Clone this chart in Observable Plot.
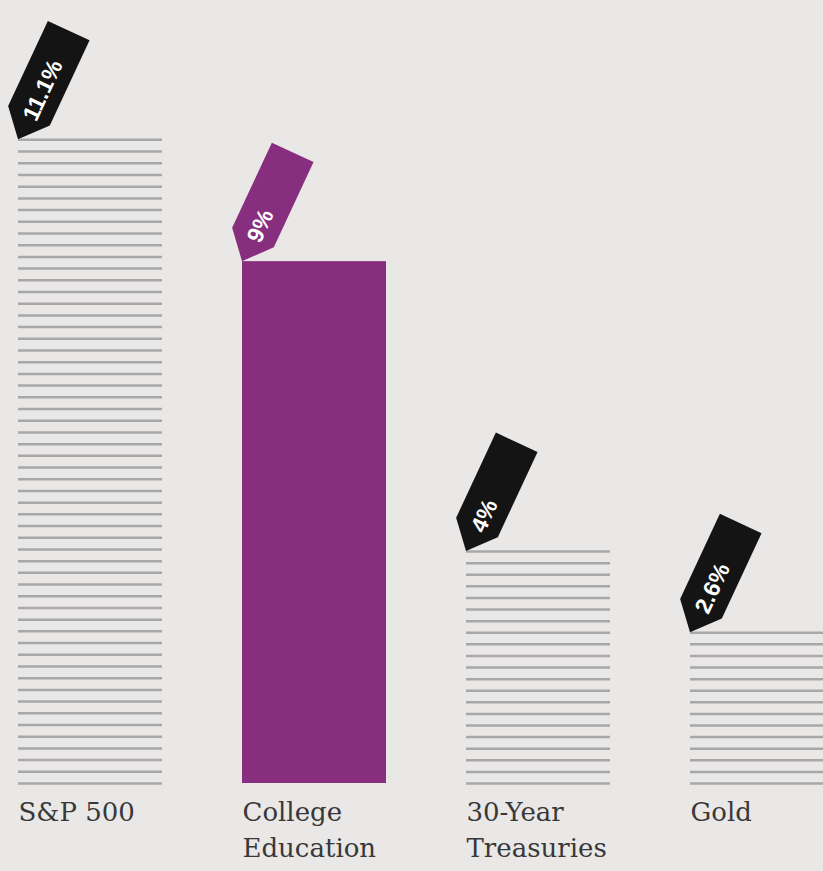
<!DOCTYPE html>
<html>
<head>
<meta charset="utf-8">
<script src="https://cdn.jsdelivr.net/npm/d3@7"></script>
<script src="https://cdn.jsdelivr.net/npm/@observablehq/plot@0.6"></script>
<style>
  html, body { margin: 0; padding: 0; background: #eae7e7; overflow: hidden; }
  #chart svg { display: block; max-width: none !important; }
</style>
</head>
<body>
<div id="chart"></div>
<script>
// ---- data ----
const categories = ["S&P 500", "College Education", "30-Year Treasuries", "Gold"];
const values = [11.1, 9, 4, 2.6];
const valueLabels = ["11.1%", "9%", "4%", "2.6%"];
const axisLabels = ["S&P 500", "College\nEducation", "30-Year\nTreasuries", "Gold"];
const highlighted = ["College Education"];

// ---- styles ----
const purple = "#882e7e";
const tagDark = "#141414";
const stripeColor = "#a8a8a8";
const stripeStep = 0.2; // approximate stripe spacing in value units (decorative)

const data = categories.map((c, i) => ({
  category: c,
  value: values[i],
  label: valueLabels[i],
  axisLabel: axisLabels[i],
  highlight: highlighted.includes(c)
}));

// decorative horizontal stripes filling the non-highlighted bars
const stripes = data.filter(d => !d.highlight).flatMap(d => {
  const n = Math.max(1, Math.round(d.value / stripeStep));
  return d3.range(n + 1).map(k => ({category: d.category, y: d.value * k / n}));
});

// tag (arrow label) mark drawn through the plot's scales
function tagMark(...args) {
  const scales = args.find(a => a && typeof a === "object" && typeof a.x === "function" && typeof a.y === "function");
  const g = d3.create("svg:g");
  for (const d of data) {
    const tx = scales.x(d.category);
    const ty = scales.y(d.value);
    const t = g.append("g").attr("transform", `translate(${tx},${ty}) rotate(25)`);
    t.append("path")
      .attr("d", "M0,0L-23,-26L-23,-120L23,-120L23,-26Z")
      .attr("fill", d.highlight ? purple : tagDark);
    t.append("text")
      .attr("transform", "rotate(-90)")
      .attr("x", 23)
      .attr("y", 1)
      .attr("dy", "0.36em")
      .attr("text-anchor", "start")
      .attr("fill", "white")
      .attr("font-family", "'Liberation Sans', Arial, sans-serif")
      .attr("font-weight", "bold")
      .attr("font-size", 23)
      .text(d.label);
  }
  return g.node();
}

const plot = Plot.plot({
  width: 835,
  height: 871,
  marginLeft: 18,
  marginRight: 0,
  marginTop: 6,
  marginBottom: 88,
  style: {background: "#eae7e7", maxWidth: "none"},
  x: {domain: categories, paddingInner: 0.357, paddingOuter: 0, axis: null},
  y: {domain: [0, 13.4], axis: null},
  marks: [
    Plot.barY(data.filter(d => d.highlight), {x: "category", y: "value", fill: purple}),
    Plot.tickY(stripes, {x: "category", y: "y", stroke: stripeColor, strokeWidth: 2.5}),
    tagMark,
    Plot.text(data, {
      x: "category", y: 0, text: "axisLabel",
      textAnchor: "start", lineAnchor: "top",
      dx: -72, dy: 13,
      fontSize: 26, lineHeight: 1.35,
      fontFamily: "'DejaVu Serif', serif",
      fill: "#383838"
    })
  ]
});
document.getElementById("chart").append(plot);
</script>
</body>
</html>
